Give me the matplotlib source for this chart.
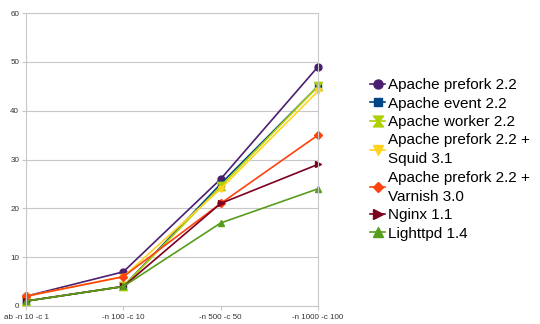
import matplotlib
matplotlib.use("Agg")
import matplotlib.pyplot as plt

categories = ["ab -n 10 -c 1", "-n 100 -c 10", "-n 500 -c 50", "-n 1000 -c 100"]
series_names = ["Apache prefork 2.2", "Apache event 2.2", "Apache worker 2.2",
                "Apache prefork 2.2 +\nSquid 3.1", "Apache prefork 2.2 +\nVarnish 3.0",
                "Nginx 1.1", "Lighttpd 1.4"]
prefork = [2, 7, 26, 49]
event = [1, 4, 25, 45]
worker = [1, 4, 24.5, 45]
squid = [2, 6, 24, 44]
varnish = [2, 6, 21, 35]
nginx = [1, 4, 21, 29]
lighttpd = [1, 4, 17, 24]
yticks = [0, 10, 20, 30, 40, 50, 60]

values = [prefork, event, worker, squid, varnish, nginx, lighttpd]
colors = ["#4b1f6f", "#004586", "#aecf00", "#ffd320", "#ff420e", "#7e0021", "#579d1c"]
markers = ["o", "s", "$\u29D7$", "v", "D", ">", "^"]
msizes = [5, 4.5, 6, 5, 3.8, 5, 5]

plt.rcParams['font.family'] = ['Liberation Sans', 'DejaVu Sans']
fig = plt.figure(figsize=(5.4, 3.24), dpi=100)
ax = fig.add_axes([26/540, 1 - 306/324, (318-26)/540, (306-13)/324])

x = list(range(len(categories)))
for v, c, m, ms, name in zip(values, colors, markers, msizes, series_names):
    ax.plot(x, v, color=c, lw=1.2, marker=m, ms=ms, mec=c, mfc=c, label=name, clip_on=False)

ax.set_xlim(0, 3)
ax.set_ylim(0, 60)
ax.set_yticks(yticks)
ax.set_xticks(x)
ax.set_xticklabels(categories)
ax.grid(axis='y', color='#c8c8c8', lw=0.8)
ax.set_axisbelow(True)
for s in ax.spines.values():
    s.set_color('#c8c8c8')
    s.set_linewidth(0.8)
ax.tick_params(axis='both', labelsize=5.8, colors='#c8c8c8', labelcolor='#333333', length=3, width=0.8)
ax.tick_params(axis='y', length=3, pad=2)
ax.tick_params(axis='x', pad=3)

leg = fig.legend(loc='upper left', bbox_to_anchor=(364/540, 1 - 72/324), frameon=False,
                 fontsize=11, handlelength=1.0, handletextpad=0.2, labelspacing=0.29,
                 borderaxespad=0, markerscale=1.3)
for t in leg.get_texts():
    t.set_linespacing(1.45)
plt.savefig("out.png", dpi=100)
